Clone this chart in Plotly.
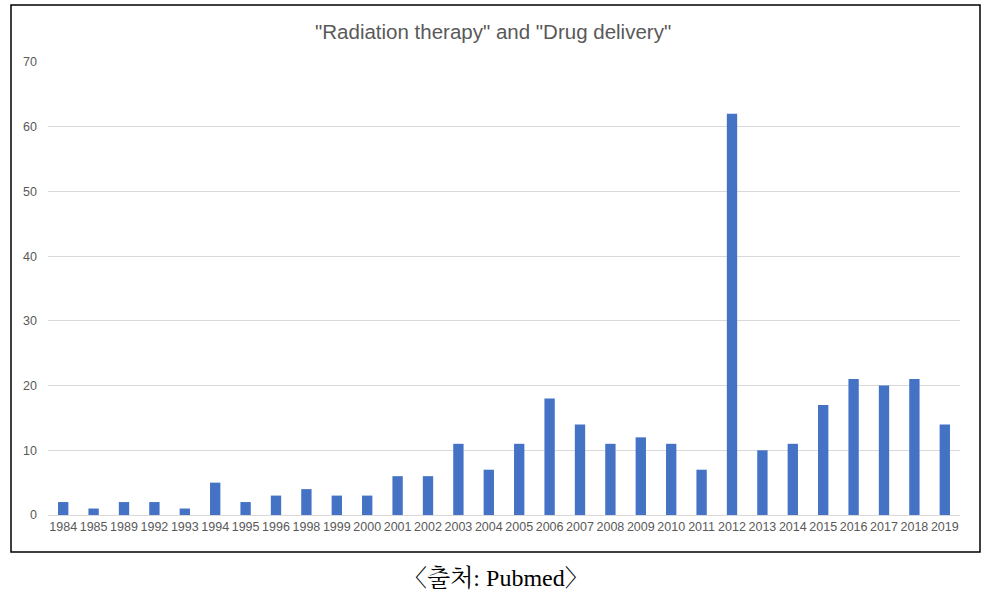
import plotly.graph_objects as go

years = ['1984', '1985', '1989', '1992', '1993', '1994', '1995', '1996', '1998', '1999',
         '2000', '2001', '2002', '2003', '2004', '2005', '2006', '2007', '2008', '2009',
         '2010', '2011', '2012', '2013', '2014', '2015', '2016', '2017', '2018', '2019']
counts = [2, 1, 2, 2, 1, 5, 2, 3, 4, 3,
          3, 6, 6, 11, 7, 11, 18, 14, 11, 12,
          11, 7, 62, 10, 11, 17, 21, 20, 21, 14]

title = '"Radiation therapy" and "Drug delivery"'
caption = '〈출처: Pubmed〉'

W, H = 993, 594
left, right, top, bottom = 48, 960, 62, 515   # plot area in page pixels
L, T, R, B = left, top, W - right, H - bottom
pw, ph = right - left, bottom - top


def px(x):
    return (x - left) / pw


def py(y):
    return (bottom - y) / ph


fig = go.Figure()
fig.add_trace(go.Bar(x=years, y=counts, marker_color='#4472C4', marker_line_width=0))

fig.update_layout(
    width=W, height=H,
    margin=dict(l=L, r=R, t=T, b=B),
    paper_bgcolor='white', plot_bgcolor='white',
    bargap=0.66,
    showlegend=False,
    font=dict(family='Liberation Sans, Arial', color='#595959'),
    xaxis=dict(type='category', showgrid=False, showline=True, linecolor='#d9d9d9',
               linewidth=1, ticks='', tickfont=dict(size=12.5, color='#595959')),
    yaxis=dict(range=[0, 70], dtick=10, showgrid=True, gridcolor='#d9d9d9',
               zeroline=False, ticks='', ticklabelstandoff=10,
               tickfont=dict(size=12.5, color='#595959')),
    shapes=[dict(type='rect', xref='paper', yref='paper',
                 x0=px(11), x1=px(980), y0=py(552), y1=py(5),
                 line=dict(color='black', width=1.5))],
    annotations=[
        dict(text=title, xref='paper', yref='paper', x=px(493), y=py(31),
             xanchor='center', yanchor='middle', showarrow=False,
             font=dict(size=20.5, color='#595959', family='Liberation Sans, Arial')),
        dict(text=caption, xref='paper', yref='paper', x=px(496), y=py(578),
             xanchor='center', yanchor='middle', showarrow=False,
             font=dict(size=24, color='black',
                       family='Liberation Serif, Noto Serif CJK KR, Noto Sans CJK KR')),
    ],
)

# drop the default 8px page margin so the figure fills the window
fig.write_html("out.html", config={'displayModeBar': False},
               post_script="document.body.style.margin='0';document.body.style.overflow='hidden';")
